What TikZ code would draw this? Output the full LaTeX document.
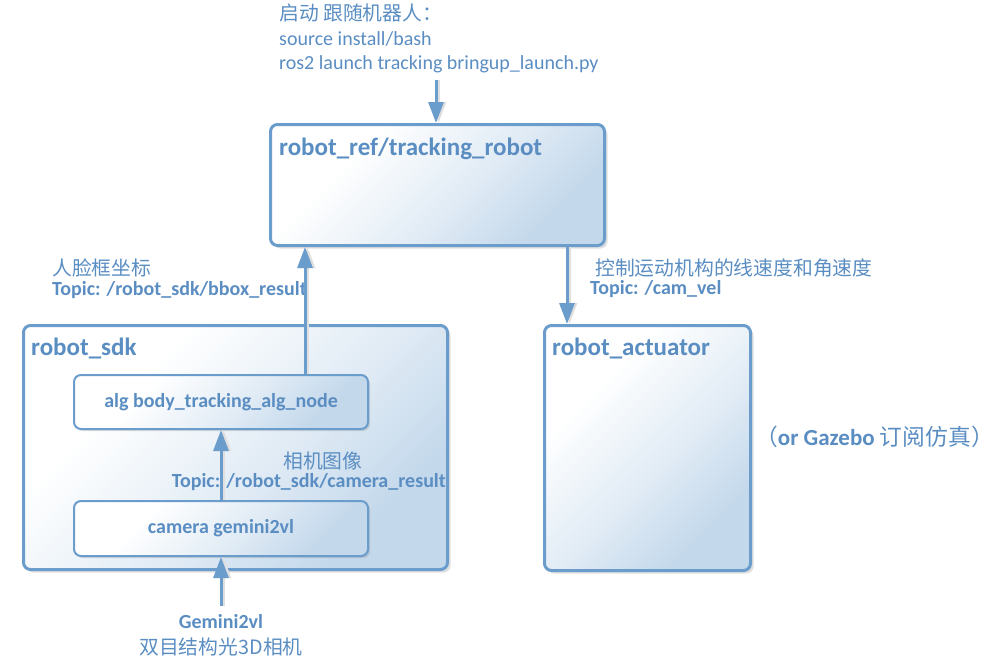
\documentclass[tikz,border=0pt]{standalone}
\usepackage{fontspec}
\setmainfont{Carlito}
\newfontfamily\cjk{Noto Sans CJK SC}[Scale=0.99]
\usetikzlibrary{arrows.meta,shadows}
\definecolor{bline}{HTML}{6A9CCC}
\definecolor{btext}{HTML}{5A8DC2}
\definecolor{bfill}{HTML}{C3D8EB}
\pgfdeclareverticalshading{boxshade}{100bp}{color(0bp)=(bfill); color(27bp)=(bfill); color(45bp)=(white!50!bfill); color(68bp)=(white); color(100bp)=(white)}
\tikzset{
  bigbox/.style={draw=bline, line width=3pt, rounded corners=7pt, anchor=north west,
    shading=boxshade, shading angle=45,
    drop shadow={shadow xshift=3pt, shadow yshift=-3pt, opacity=0.25, fill=gray},
    inner sep=0pt},
  smallbox/.style={draw=bline, line width=2pt, rounded corners=7pt, anchor=north west,
    shading=boxshade, shading angle=45,
    drop shadow={shadow xshift=2pt, shadow yshift=-2pt, opacity=0.25, fill=gray},
    inner sep=0pt, text=btext, font=\fontsize{20}{24}\selectfont\bfseries},
  title/.style={anchor=north west, inner sep=0pt, text=btext, font=\fontsize{25}{30}\selectfont\bfseries},
  lbl/.style={inner sep=0pt, text=btext, font=\fontsize{20}{24}\selectfont},
  conn/.style={draw=bline, line width=3pt, -{Triangle[width=15pt,length=21pt]},
    preaction={draw=gray!25, line width=3pt, transform canvas={xshift=2.5pt}}},
}
\begin{document}
\begin{tikzpicture}[x=1pt,y=-1pt]
\useasboundingbox (0,0) rectangle (999,670);
% boxes
\node[bigbox, minimum width=334pt, minimum height=121pt] (track) at (269,123) {};
\node[bigbox, minimum width=424pt, minimum height=244pt] (sdk) at (22,324) {};
\node[bigbox, minimum width=206pt, minimum height=245pt] (act) at (543,324) {};
\node[smallbox, minimum width=294pt, minimum height=54pt] (alg) at (73,374) {alg body\_tracking\_alg\_node};
\node[smallbox, minimum width=294pt, minimum height=55pt] (cam) at (73,500) {camera gemini2vl};
% titles
\node[title] (ttrack) at (279,138) {robot\_ref/tracking\_robot};
\node[title] (tsdk) at (31,338) {robot\_sdk};
\node[title] (tact) at (552,338) {robot\_actuator};
% top text
\node[lbl, anchor=north west, align=left, font=\fontsize{20}{24.5}\selectfont] (launch) at (279,4)
  {{\cjk 启动 跟随机器人：}\\source install/bash\\ros2 launch tracking bringup\_launch.py};
\coordinate (launchend) at (436,80);
% labels
\node[lbl, anchor=west] (bboxcn) at (52,268) {\cjk 人脸框坐标};
\node[lbl, anchor=west, font=\fontsize{20}{24}\selectfont\bfseries] (bboxtp) at (52,290) {Topic: /robot\_sdk/bbox\_result};
\node[lbl, anchor=west] (camcn) at (283,461) {\cjk 相机图像};
\node[lbl, anchor=east, font=\fontsize{20}{24}\selectfont\bfseries] (camtp) at (446,482) {Topic: /robot\_sdk/camera\_result};
\node[lbl, anchor=west] (velcn) at (595,268) {\cjk 控制运动机构的线速度和角速度};
\node[lbl, anchor=west, font=\fontsize{20}{24}\selectfont\bfseries] (veltp) at (590,289) {Topic: /cam\_vel};
\node[lbl, font=\fontsize{20}{24}\selectfont\bfseries] (gem) at (221,622) {Gemini2vl};
\node[lbl] (gemcn) at (221,647) {\cjk 双目结构光3D相机};
\node[lbl, anchor=west, font=\fontsize{23}{27}\selectfont] (gaz) at (755,437) {{\cjk （}\textbf{or Gazebo} {\cjk 订阅仿真）}};
\coordinate (gemtop) at (221,606);
% connectors
\draw[conn] (launchend) -- (launchend |- track.north);
\draw[conn] (alg.north -| 305,0) -- (track.south -| 305,0);
\draw[conn] (cam.north -| 221,0) -- (alg.south -| 221,0);
\draw[conn] (gemtop) -- (cam.south -| 221,0);
\draw[conn] (track.south -| 567,0) -- (act.north -| 567,0);
\end{tikzpicture}
\end{document}
